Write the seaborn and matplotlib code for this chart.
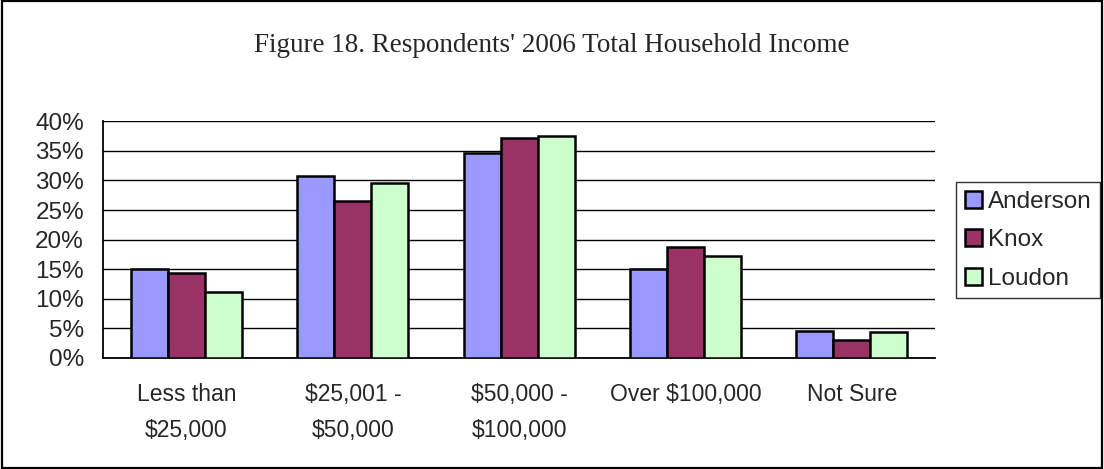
import matplotlib
matplotlib.use("Agg")
import matplotlib.pyplot as plt
from matplotlib.patches import Rectangle
from matplotlib.ticker import FixedLocator
import seaborn as sns
import pandas as pd

# Income brackets and share of respondents (%) per county
categories = ["Less than\n$25,000", "$25,001 -\n$50,000", "$50,000 -\n$100,000",
              "Over $100,000", "Not Sure"]
anderson = [15.1, 30.8, 34.6, 15.1, 4.5]
knox = [14.3, 26.5, 37.2, 18.8, 3.1]
loudon = [11.2, 29.6, 37.5, 17.3, 4.4]
counties = ["Anderson", "Knox", "Loudon"]
y_ticks = [0, 5, 10, 15, 20, 25, 30, 35, 40]

df = pd.DataFrame({
    "category": categories * 3,
    "county": [c for c in counties for _ in categories],
    "pct": anderson + knox + loudon,
})

sns.set_theme(style="white")
plt.rcParams["font.family"] = ["Liberation Sans", "DejaVu Sans"]

fig = plt.figure(figsize=(11.04, 4.69), dpi=100)
ax = fig.add_axes([0.0936, 0.2367, 0.7533, 0.5047])

palette = {"Anderson": "#9999FF", "Knox": "#993366", "Loudon": "#CCFFCC"}
sns.barplot(data=df, x="category", y="pct", hue="county", order=categories,
            hue_order=counties, palette=palette, width=2 / 3, gap=0,
            edgecolor="black", linewidth=1.8, saturation=1, errorbar=None, ax=ax,
            zorder=3)

ax.set_xlim(-0.5, len(categories) - 0.5)
ax.set_ylim(0, 40)
ax.set_yticks(y_ticks)
ax.set_yticklabels([f"{t}%" for t in y_ticks], fontsize=17.5)
ax.yaxis.grid(True, color="black", linewidth=1.0, zorder=0)
ax.set_axisbelow(True)

# Category labels centred under each group; tick marks on group boundaries
ax.tick_params(axis="x", which="major", length=0, pad=18)
ax.xaxis.set_minor_locator(FixedLocator([i - 0.5 for i in range(len(categories) + 1)]))
ax.tick_params(axis="x", which="minor", length=7, width=1.2, color="black", direction="out")
ax.tick_params(axis="y", which="major", length=6, width=1.2, color="black", direction="out", pad=8)
for lab in ax.get_xticklabels():
    lab.set_fontsize(16.5)
    lab.set_linespacing(1.7)

ax.set_xlabel("")
ax.set_ylabel("")
for side in ("top", "right"):
    ax.spines[side].set_visible(False)
for side in ("left", "bottom"):
    ax.spines[side].set_color("black")
    ax.spines[side].set_linewidth(1.3)

leg = ax.legend(loc="upper left", bbox_to_anchor=(0.8659, 0.6124), bbox_transform=fig.transFigure,
                frameon=True, fontsize=17.5, handlelength=0.7, handleheight=0.7,
                handletextpad=0.25, labelspacing=0.68, borderpad=0.36, borderaxespad=0,
                fancybox=False, title=None)
leg.get_frame().set_edgecolor("black")
leg.get_frame().set_linewidth(1.0)
for h in leg.legend_handles:
    h.set_edgecolor("black")
    h.set_linewidth(1.8)

fig.text(0.5, 0.902, "Figure 18. Respondents' 2006 Total Household Income",
         ha="center", va="center", fontsize=19.5, family=["Liberation Serif", "DejaVu Serif"])

# Outer chart border
fig.patches.append(Rectangle((0.002, 0.003), 0.996, 0.994, transform=fig.transFigure,
                             fill=False, edgecolor="black", linewidth=1.6))

fig.savefig("out.png", dpi=100)
